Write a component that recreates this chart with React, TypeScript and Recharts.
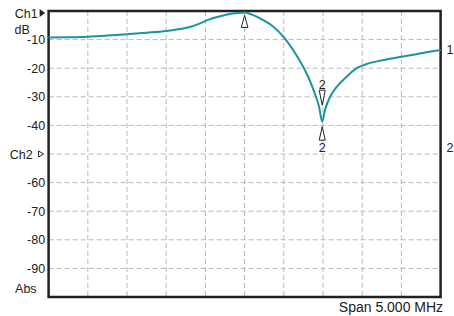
import React from "react";
import {
  LineChart,
  Line,
  XAxis,
  YAxis,
  CartesianGrid,
  ReferenceArea,
  ReferenceDot,
  Label,
} from "recharts";

// Frequency position in grid divisions (span 5.000 MHz over 10 divisions)
const freqDiv = [
  0, 0.5, 1, 1.5, 2, 2.5, 3, 3.3, 3.6, 3.85, 4.07, 4.3, 4.5, 4.75, 5, 5.17, 5.4, 5.68, 6.02, 6.32,
  6.62, 6.79, 6.9, 6.98, 7.05, 7.18, 7.35, 7.6, 7.86, 8.1, 8.35, 9, 9.5, 10,
];
// Ch1 trace, dB
const ch1Db = [
  -9.3, -9.2, -9.0, -8.6, -8.1, -7.6, -7.0, -6.4, -5.6, -4.4, -3.1, -2.1, -1.4, -0.8, -0.5, -1.2,
  -2.6, -4.9, -9.5, -15.4, -23.0, -28.8, -33.5, -38.7, -34.6, -30.0, -26.5, -23.0, -20.0, -18.6,
  -17.7, -16.0, -14.8, -13.6,
];
const xTicks = [0, 1, 2, 3, 4, 5, 6, 7, 8, 9, 10];
const yTicks = [0, -10, -20, -30, -40, -50, -60, -70, -80, -90, -100];
const yLabels: Record<number, string> = {
  [-10]: "-10",
  [-20]: "-20",
  [-30]: "-30",
  [-40]: "-40",
  [-60]: "-60",
  [-70]: "-70",
  [-80]: "-80",
  [-90]: "-90",
};
// right-edge reference labels (trace 1 end level, channel 2 reference)
const rightRefs = [
  { y: -13.6, label: "1" },
  { y: -47.6, label: "2" },
];
const marker1 = { x: 5, y: -0.5 };
const marker2 = { x: 6.98, y: -38.7 };
const spanText = "Span 5.000 MHz";

const data = freqDiv.map((f, i) => ({ f, v: ch1Db[i] }));

const TXT = "#222";
const FONT = "'Liberation Sans', Arial, sans-serif";

const LeftTick = (props: any) => {
  const { x, y, payload } = props;
  const v = payload.value;
  if (v === 0) {
    return (
      <g fontFamily={FONT} fontSize={12.5} fill={TXT}>
        <text x={x - 11} y={y + 7} textAnchor="end">Ch1</text>
        <path d={`M${x - 9},${y - 2} L${x - 3.5},${y + 2} L${x - 9},${y + 6} Z`} fill={TXT} />
        <text x={x - 34} y={y + 23}>dB</text>
      </g>
    );
  }
  if (v === -100) {
    return (
      <text x={x - 12} y={y - 4} textAnchor="end" fontFamily={FONT} fontSize={12.5} fill={TXT}>
        Abs
      </text>
    );
  }
  if (v === -50) {
    return (
      <g fontFamily={FONT} fontSize={12.5} fill={TXT}>
        <text x={x - 16} y={y + 5} textAnchor="end">Ch2</text>
        <path
          d={`M${x - 10},${y - 3} L${x - 5},${y} L${x - 10},${y + 3} Z`}
          fill="none"
          stroke={TXT}
          strokeWidth={1}
        />
      </g>
    );
  }
  return (
    <text x={x - 3.5} y={y + 4.5} textAnchor="end" fontFamily={FONT} fontSize={12.5} fill={TXT}>
      {yLabels[v]}
    </text>
  );
};

const NoTick = () => <g />;

const RightLabel = (label: string) => (props: any) => {
  const { cx, cy } = props;
  return (
    <text x={cx + 6} y={cy + 4.5} fontFamily={FONT} fontSize={12.5} fill={TXT}>
      {label}
    </text>
  );
};

const PeakMarker = (props: any) => {
  const { cx, cy } = props;
  return (
    <path
      d={`M${cx},${cy + 3} L${cx + 3.3},${cy + 15} L${cx - 3.3},${cy + 15} Z`}
      fill="#fff"
      stroke={TXT}
      strokeWidth={1}
    />
  );
};

const DipMarker = (props: any) => {
  const { cx, cy } = props;
  return (
    <g fontFamily={FONT} fontSize={12.5} fill={TXT}>
      <text x={cx} y={cy - 33} textAnchor="middle">2</text>
      <path
        d={`M${cx - 3},${cy - 31.5} L${cx + 3},${cy - 31.5} L${cx},${cy - 16.5} Z`}
        fill="#fff"
        stroke={TXT}
        strokeWidth={1}
      />
      <path
        d={`M${cx},${cy + 5} L${cx + 3},${cy + 18.5} L${cx - 3},${cy + 18.5} Z`}
        fill="#fff"
        stroke={TXT}
        strokeWidth={1}
      />
      <text x={cx} y={cy + 30.5} textAnchor="middle">2</text>
    </g>
  );
};

export default function App() {
  return (
    <div style={{ position: "absolute", left: 0, top: 0, background: "#fff" }}>
      <LineChart
        width={454}
        height={316}
        data={data}
        margin={{ top: 11, right: 13.4, bottom: 0, left: 0 }}
      >
        <CartesianGrid
          stroke="#b8b8b8"
          strokeDasharray="5 3"
          strokeWidth={1}
          fill="none"
        />
        <XAxis
          dataKey="f"
          type="number"
          domain={[0, 10]}
          ticks={xTicks}
          interval={0}
          tick={<NoTick />}
          tickLine={false}
          axisLine={false}
          height={19}
        >
          <Label
            content={(p: any) => {
              const vb = p.viewBox;
              return (
                <text
                  x={vb.x + vb.width + 2.5}
                  y={vb.y + 15}
                  textAnchor="end"
                  fontFamily={FONT}
                  fontSize={14}
                  fill={TXT}
                >
                  {spanText}
                </text>
              );
            }}
          />
        </XAxis>
        <YAxis
          type="number"
          domain={[-100, 0]}
          ticks={yTicks}
          interval={0}
          width={48.6}
          tickSize={0}
          tickMargin={0}
          axisLine={false}
          tickLine={false}
          tick={<LeftTick />}
        />
        <Line
          type="monotone"
          dataKey="v"
          stroke="#1a949f"
          strokeWidth={2}
          dot={false}
          isAnimationActive={false}
        />
        <ReferenceArea
          x1={0}
          x2={10}
          y1={-100}
          y2={0}
          fill="none"
          stroke="#222"
          strokeWidth={2.5}
          ifOverflow="visible"
        />
        <ReferenceDot x={marker1.x} y={marker1.y} shape={<PeakMarker />} ifOverflow="visible" />
        <ReferenceDot x={marker2.x} y={marker2.y} shape={<DipMarker />} ifOverflow="visible" />
        {rightRefs.map((r) => (
          <ReferenceDot
            key={r.label}
            x={10}
            y={r.y}
            shape={RightLabel(r.label)}
            ifOverflow="visible"
          />
        ))}
      </LineChart>
    </div>
  );
}
